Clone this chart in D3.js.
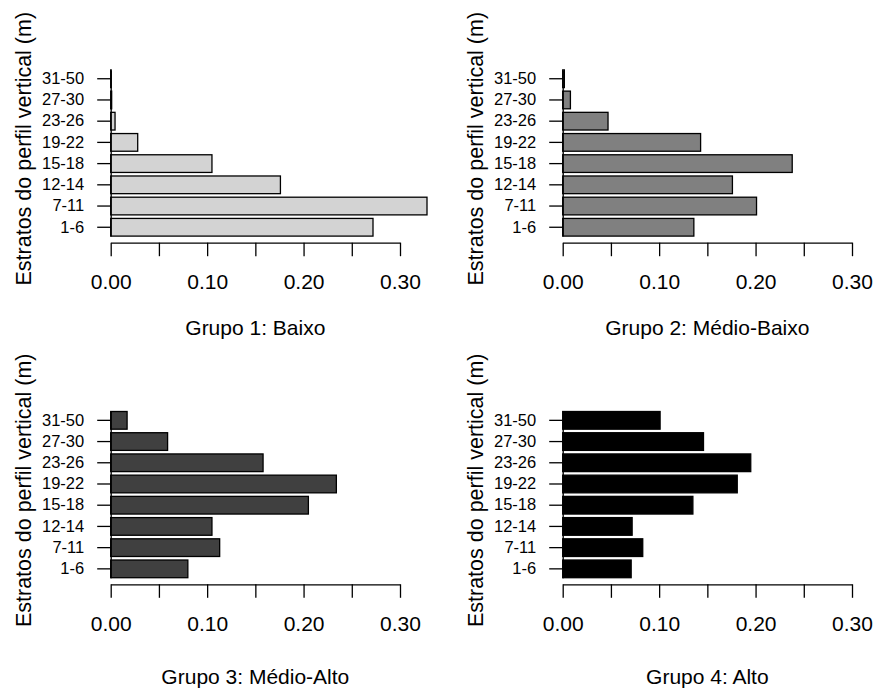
<!DOCTYPE html>
<html lang="pt">
<head>
<meta charset="UTF-8">
<title>Estratos do perfil vertical por grupo</title>
<script src="https://d3js.org/d3.v7.min.js"></script>
<style>
  body { margin: 0; background: #fff; }
  svg { display: block; font-family: "Liberation Sans", Arial, sans-serif; }
</style>
</head>
<body>
<div id="chart"></div>
<script>
// strata (bottom to top) and proportions per group
const categories = ["1-6", "7-11", "12-14", "15-18", "19-22", "23-26", "27-30", "31-50"];
const grupo1 = [0.272, 0.328, 0.176, 0.105, 0.028, 0.0045, 0.001, 0.0005];
const grupo2 = [0.136, 0.201, 0.176, 0.238, 0.143, 0.047, 0.008, 0.0017];
const grupo3 = [0.080, 0.113, 0.105, 0.205, 0.234, 0.158, 0.059, 0.017];
const grupo4 = [0.071, 0.083, 0.072, 0.135, 0.181, 0.195, 0.146, 0.101];
const titles = ["Grupo 1: Baixo", "Grupo 2: Médio-Baixo", "Grupo 3: Médio-Alto", "Grupo 4: Alto"];
const fills = ["#d3d3d3", "#808080", "#404040", "#000000"];
const xTicks = [0, 0.05, 0.10, 0.15, 0.20, 0.25, 0.30];
const xLabels = [0, 0.10, 0.20, 0.30];
const yTitle = "Estratos do perfil vertical (m)";

const width = 874, height = 688;
const svg = d3.select("#chart").append("svg")
    .attr("width", width)
    .attr("height", height);

const groups = [grupo1, grupo2, grupo3, grupo4];
const originX = [110.7, 562.7];   // x of value 0, per column
const axisY = [242.7, 584.3];     // x axis line, per row
const plotW = 289.3;

const x = d3.scaleLinear().domain([0, 0.3]).range([0, plotW]);
const y = d3.scaleBand()
    .domain(categories.slice().reverse())
    .range([-172.8, -6.6])
    .paddingInner(1 / 6)
    .paddingOuter(0);

groups.forEach((vals, i) => {
    const col = i % 2, row = Math.floor(i / 2);
    const g = svg.append("g")
        .attr("transform", `translate(${originX[col]},${axisY[row]})`);

    // bars
    g.selectAll("rect")
        .data(vals.map((v, k) => ({ cat: categories[k], v })))
        .enter().append("rect")
        .attr("x", 0)
        .attr("y", d => y(d.cat))
        .attr("width", d => x(d.v))
        .attr("height", y.bandwidth())
        .attr("fill", fills[i])
        .attr("stroke", "#000")
        .attr("stroke-width", 1.3);

    // y axis
    const ya = g.append("g")
        .call(d3.axisLeft(y).tickSize(13.5).tickSizeOuter(0).tickPadding(13));
    ya.select(".domain").attr("stroke-width", 1.3);
    ya.selectAll(".tick line").attr("stroke-width", 1.3);
    ya.selectAll("text").attr("font-size", 16.5).attr("fill", "#000");

    // x axis
    const xa = g.append("g")
        .call(d3.axisBottom(x).tickValues(xTicks).tickSize(13.5).tickSizeOuter(0)
            .tickFormat(d => xLabels.some(l => Math.abs(l - d) < 1e-9) ? d3.format(".2f")(d) : ""));
    xa.select(".domain").attr("stroke-width", 1.3);
    xa.selectAll(".tick line").attr("stroke-width", 1.3);
    xa.selectAll("text")
        .attr("font-size", 21)
        .attr("fill", "#000")
        .attr("dy", null)
        .attr("y", 46.5);

    // y axis title
    g.append("text")
        .attr("transform", `translate(${-80},${-94}) rotate(-90)`)
        .attr("text-anchor", "middle")
        .attr("font-size", 21.5)
        .attr("fill", "#000")
        .text(yTitle);

    // group title
    g.append("text")
        .attr("x", plotW / 2)
        .attr("y", row === 0 ? 92 : 100)
        .attr("text-anchor", "middle")
        .attr("font-size", 21)
        .attr("fill", "#000")
        .text(titles[i]);
});
</script>
</body>
</html>
